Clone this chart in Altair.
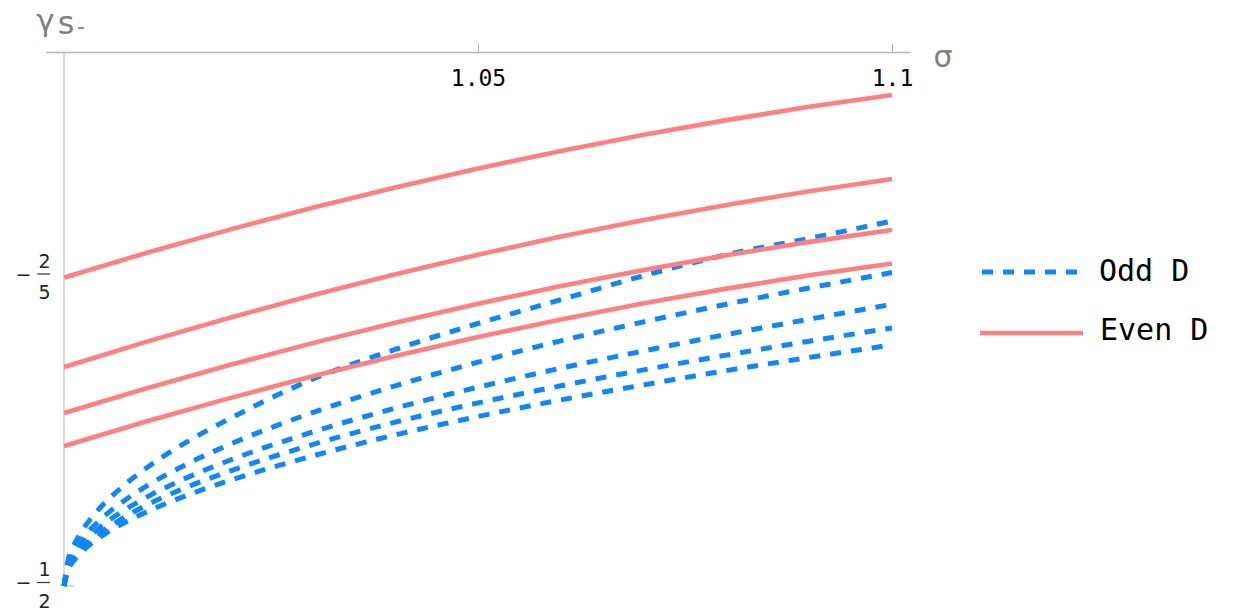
import altair as alt
import pandas as pd

# Odd-D branches: gamma_{s-} versus sigma (all start at -1/2)
sigma_odd = [1.0, 1.0005, 1.001, 1.002, 1.004, 1.007, 1.01, 1.015, 1.02,
             1.03, 1.04, 1.05, 1.06, 1.07, 1.08, 1.09, 1.1]
odd_1 = [-0.5, -0.49141, -0.48788, -0.48285, -0.47575, -0.46791, -0.46165, -0.45303,
         -0.44577, -0.43300, -0.42331, -0.41491, -0.40720, -0.39942, -0.39261,
         -0.38733, -0.38169]
odd_2 = [-0.5, -0.49274, -0.48975, -0.48548, -0.47948, -0.47287, -0.46755, -0.46026,
         -0.45410, -0.44379, -0.43511, -0.42745, -0.42052, -0.41440, -0.40865,
         -0.40340, -0.39840]
odd_3 = [-0.5, -0.49355, -0.49089, -0.48710, -0.48178, -0.47588, -0.47118, -0.46470,
         -0.45925, -0.45008, -0.44237, -0.43556, -0.42940, -0.42380, -0.41848,
         -0.41350, -0.40870]
odd_4 = [-0.5, -0.49426, -0.49190, -0.48846, -0.48360, -0.47816, -0.47374, -0.46778,
         -0.46275, -0.45417, -0.44690, -0.44065, -0.43511, -0.42995, -0.42515,
         -0.42065, -0.41634]
odd_5 = [-0.5, -0.49465, -0.49245, -0.48930, -0.48486, -0.47990, -0.47595, -0.47044,
         -0.46580, -0.45786, -0.45102, -0.44506, -0.43968, -0.43480, -0.43018,
         -0.42590, -0.42185]

# Even-D branches
sigma_even = [1.0, 1.01, 1.02, 1.03, 1.04, 1.05, 1.06, 1.07, 1.08, 1.09, 1.1]
even_1 = [-0.4, -0.39199, -0.38447, -0.37741, -0.37079, -0.36467, -0.35896,
          -0.35374, -0.34898, -0.34467, -0.34084]
even_2 = [-0.42901, -0.42078, -0.41302, -0.40574, -0.39893, -0.39260, -0.38674,
          -0.38136, -0.37646, -0.37202, -0.36807]
even_3 = [-0.44392, -0.43591, -0.42835, -0.42127, -0.41464, -0.40848, -0.40278,
          -0.39754, -0.39276, -0.38845, -0.38460]
even_4 = [-0.45462, -0.44661, -0.43909, -0.43203, -0.42541, -0.41929, -0.41358,
          -0.40836, -0.40360, -0.39929, -0.39546]

x_ticks = [1.05, 1.1]
y_ticks = [-0.4, -0.5]
y_num = ["2", "1"]
y_den = ["5", "2"]
legend_labels = ["Odd D", "Even D"]

BLUE = "#0f86fb"
RED = "#ff8080"
AXIS_GRAY = "#b4b4b4"
LABEL_GRAY = "#808080"


def long_form(sigmas, series, prefix):
    rows = []
    for i, vals in enumerate(series):
        for s, v in zip(sigmas, vals):
            rows.append({"sigma": s, "gamma": v, "curve": f"{prefix}{i}"})
    return pd.DataFrame(rows)


odd_df = long_form(sigma_odd, [odd_1, odd_2, odd_3, odd_4, odd_5], "odd")
even_df = long_form(sigma_even, [even_1, even_2, even_3, even_4], "even")

x_scale = alt.Scale(domain=[0.997826, 1.102174], nice=False, zero=False)
y_scale = alt.Scale(domain=[-0.5, -0.3269], nice=False, zero=False)

x_axis = alt.Axis(
    orient="top", values=x_ticks, format=".2~f", title=None, grid=False,
    tickSize=9, tickColor=AXIS_GRAY, domainColor=AXIS_GRAY, domainWidth=1.5,
    labelFont="DejaVu Sans Mono", labelFontSize=23, labelColor="black",
    labelPadding=-42, labelBaseline="alphabetic", labelFlush=False,
)


def X(field):
    return alt.X(field, scale=x_scale, axis=x_axis)


def Y(field):
    return alt.Y(field, scale=y_scale, axis=None)


odd_lines = alt.Chart(odd_df).mark_line(
    color=BLUE, strokeWidth=5, strokeDash=[11, 10], strokeCap="butt",
    interpolate="monotone",
).encode(x=X("sigma:Q"), y=Y("gamma:Q"), detail="curve:N")

even_lines = alt.Chart(even_df).mark_line(
    color=RED, strokeWidth=4.6, interpolate="monotone",
).encode(x=X("sigma:Q"), y=Y("gamma:Q"), detail="curve:N")

# vertical axis drawn through sigma = 1
yaxis_df = pd.DataFrame({"sigma": [1.0], "top": [-0.3269], "bottom": [-0.5]})
y_axis_line = alt.Chart(yaxis_df).mark_rule(color=AXIS_GRAY, strokeWidth=1).encode(
    x=X("sigma:Q"), y=Y("top:Q"), y2="bottom:Q"
)

ytick_df = pd.DataFrame({
    "value": y_ticks, "num": y_num, "den": y_den,
    "sigma": [1.0, 1.0], "tick_end": [1.0012, 1.0012],
})
y_tick_marks = alt.Chart(ytick_df).mark_rule(color=AXIS_GRAY, strokeWidth=1).encode(
    x=X("sigma:Q"), x2="tick_end:Q", y=Y("value:Q")
)

frac_font = dict(font="DejaVu Sans", fontSize=19, color="#222222")
y_minus = alt.Chart(ytick_df).mark_text(baseline="middle", dy=-3, **frac_font).encode(
    text=alt.value("\u2212"), x=alt.value(-22.5), y=Y("value:Q")
)
y_numer = alt.Chart(ytick_df).mark_text(baseline="middle", dy=-16, **frac_font).encode(
    text="num:N", x=alt.value(-1.5), y=Y("value:Q")
)
y_denom = alt.Chart(ytick_df).mark_text(baseline="middle", dy=15.5, **frac_font).encode(
    text="den:N", x=alt.value(-1.5), y=Y("value:Q")
)
y_bar = alt.Chart(ytick_df).mark_rule(color="#333333", strokeWidth=1.2, yOffset=-3.5).encode(
    x=alt.value(-9), x2=alt.value(4), y=Y("value:Q")
)

# axis titles
sigma_title = alt.Chart(pd.DataFrame({"t": ["\u03c3"]})).mark_text(
    font="DejaVu Sans", fontSize=30, color=LABEL_GRAY, baseline="middle", align="center"
).encode(text="t:N", x=alt.value(897), y=alt.value(6))

gamma_title = alt.Chart(pd.DataFrame({"t": ["\u03b3"]})).mark_text(
    font="DejaVu Sans", fontSize=31, color=LABEL_GRAY, baseline="middle", align="center"
).encode(text="t:N", x=alt.value(-0.5), y=alt.value(-30))
s_title = alt.Chart(pd.DataFrame({"t": ["s"]})).mark_text(
    font="DejaVu Sans", fontSize=32, color=LABEL_GRAY, baseline="middle", align="center"
).encode(text="t:N", x=alt.value(20), y=alt.value(-28))
minus_title = alt.Chart(pd.DataFrame({"t": ["-"]})).mark_text(
    font="DejaVu Sans", fontSize=22, color=LABEL_GRAY, baseline="middle", align="center"
).encode(text="t:N", x=alt.value(35), y=alt.value(-25))

# legend
leg_odd = pd.DataFrame({"label": [legend_labels[0]]})
leg_even = pd.DataFrame({"label": [legend_labels[1]]})
legend_font = dict(font="DejaVu Sans Mono", fontSize=30, color="black",
                   align="left", baseline="middle")
leg_odd_line = alt.Chart(leg_odd).mark_rule(
    color=BLUE, strokeWidth=5, strokeDash=[11, 10], strokeCap="butt"
).encode(x=alt.value(936), x2=alt.value(1031), y=alt.value(220))
leg_odd_text = alt.Chart(leg_odd).mark_text(**legend_font).encode(
    text="label:N", x=alt.value(1053), y=alt.value(220)
)
leg_even_line = alt.Chart(leg_even).mark_rule(color=RED, strokeWidth=4.6).encode(
    x=alt.value(934), x2=alt.value(1037), y=alt.value(281)
)
leg_even_text = alt.Chart(leg_even).mark_text(**legend_font).encode(
    text="label:N", x=alt.value(1054), y=alt.value(279)
)

chart = alt.layer(
    y_axis_line, y_tick_marks, odd_lines, even_lines,
    y_minus, y_numer, y_denom, y_bar,
    sigma_title, gamma_title, s_title, minus_title,
    leg_odd_line, leg_odd_text, leg_even_line, leg_even_text,
).properties(
    width=864, height=534,
    padding={"left": 46, "top": 52, "right": 325, "bottom": 27},
    autosize=alt.AutoSizeParams(type="none"),
    background="white",
).configure_view(stroke=None)

chart.save("out.html", embed_options={"renderer": "svg", "actions": False})
